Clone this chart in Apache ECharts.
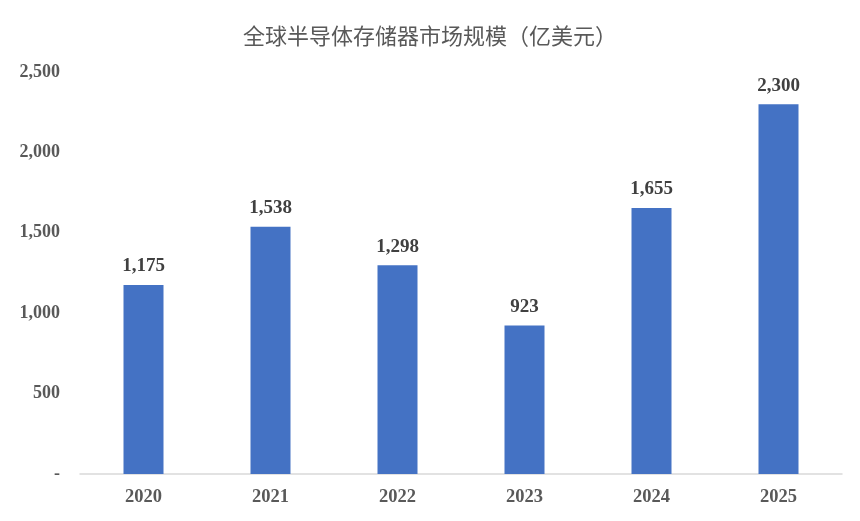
<!DOCTYPE html>
<html lang="zh">
<head>
<meta charset="utf-8">
<script src="https://cdn.jsdelivr.net/npm/echarts@6/dist/echarts.min.js"></script>
<style>
    html, body { margin: 0; padding: 0; background: #fff; }
    #chartMain { width: 860px; height: 521px; }
</style>
</head>
<body>
<div id="chartMain"></div>
<script>
    // 数据
    var years = ['2020', '2021', '2022', '2023', '2024', '2025'];
    var marketSize = [1175, 1538, 1298, 923, 1655, 2300];
    var titleText = '全球半导体存储器市场规模（亿美元）';

    var serif = '"Liberation Serif", "Times New Roman", serif';

    function fmt(v) {
        return v === 0 ? '-' : v.toLocaleString('en-US');
    }

    var myChart = echarts.init(document.getElementById('chartMain'));

    myChart.setOption({
        animation: false,
        title: {
            text: titleText,
            left: 'center',
            top: 20,
            textStyle: {
                fontFamily: '"Noto Sans CJK SC", sans-serif',
                fontWeight: 'normal',
                fontSize: 22,
                color: '#595959'
            }
        },
        grid: {
            left: 80,
            right: 18,
            top: 72,
            bottom: 47
        },
        xAxis: {
            type: 'category',
            data: years,
            axisLine: { lineStyle: { color: '#d9d9d9', width: 1.5 } },
            axisTick: { show: false },
            axisLabel: {
                margin: 14,
                fontFamily: serif,
                fontWeight: 'bold',
                fontSize: 18.5,
                color: '#595959'
            }
        },
        yAxis: {
            type: 'value',
            min: 0,
            max: 2500,
            interval: 500,
            splitLine: { show: false },
            axisLine: { show: false },
            axisTick: { show: false },
            axisLabel: {
                margin: 20,
                fontFamily: serif,
                fontWeight: 'bold',
                fontSize: 18,
                color: '#595959',
                formatter: fmt
            }
        },
        series: [
            {
                type: 'bar',
                data: marketSize,
                barWidth: 40,
                itemStyle: { color: '#4472C4' },
                label: {
                    show: true,
                    position: 'top',
                    distance: 9,
                    fontFamily: serif,
                    fontWeight: 'bold',
                    fontSize: 19,
                    color: '#404040',
                    formatter: function (p) { return fmt(p.value); }
                }
            }
        ]
    });
</script>
</body>
</html>
